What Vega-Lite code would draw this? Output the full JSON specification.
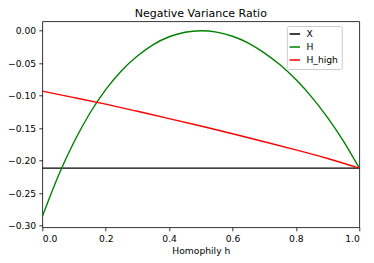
{
  "$schema": "https://vega.github.io/schema/vega-lite/v6.json",
  "width": 317,
  "height": 206,
  "autosize": {"type": "none"},
  "padding": {"left": 42.3, "top": 21.3, "right": 14.7, "bottom": 35.7},
  "title": {"text": "Negative Variance Ratio", "font": "DejaVu Sans", "fontSize": 11, "fontWeight": "normal", "color": "#000000", "baseline": "bottom", "offset": -9, "frame": "group"},
  "config": {
    "view": {"stroke": "#000000", "strokeWidth": 0.8},
    "axis": {"domain": false, "grid": false, "tickColor": "#000000", "tickWidth": 0.8, "tickSize": 3.5, "labelPadding": 3.2, "labelFont": "DejaVu Sans", "labelFontSize": 9.2, "labelColor": "#000000", "titleFont": "DejaVu Sans", "titleFontSize": 9.2, "titleFontWeight": "normal", "titleColor": "#000000"}
  },
  "data": {"values": [
    {"h": 0.0, "v": -0.2115, "s": "X"},
    {"h": 1.0, "v": -0.2115, "s": "X"},
    {"h": 0.0, "v": -0.286, "s": "H"},
    {"h": 0.05, "v": -0.2239, "s": "H"},
    {"h": 0.10, "v": -0.1712, "s": "H"},
    {"h": 0.15, "v": -0.1270, "s": "H"},
    {"h": 0.20, "v": -0.0906, "s": "H"},
    {"h": 0.25, "v": -0.0615, "s": "H"},
    {"h": 0.30, "v": -0.0390, "s": "H"},
    {"h": 0.35, "v": -0.0215, "s": "H"},
    {"h": 0.40, "v": -0.0093, "s": "H"},
    {"h": 0.45, "v": -0.0023, "s": "H"},
    {"h": 0.50, "v": 0.0, "s": "H"},
    {"h": 0.55, "v": -0.0021, "s": "H"},
    {"h": 0.60, "v": -0.0085, "s": "H"},
    {"h": 0.65, "v": -0.0190, "s": "H"},
    {"h": 0.70, "v": -0.0340, "s": "H"},
    {"h": 0.75, "v": -0.0525, "s": "H"},
    {"h": 0.80, "v": -0.0752, "s": "H"},
    {"h": 0.85, "v": -0.1022, "s": "H"},
    {"h": 0.90, "v": -0.1338, "s": "H"},
    {"h": 0.95, "v": -0.1700, "s": "H"},
    {"h": 1.0, "v": -0.2115, "s": "H"},
    {"h": 0.0, "v": -0.0930, "s": "H_high"},
    {"h": 0.1, "v": -0.1029, "s": "H_high"},
    {"h": 0.2, "v": -0.1130, "s": "H_high"},
    {"h": 0.3, "v": -0.1240, "s": "H_high"},
    {"h": 0.4, "v": -0.1352, "s": "H_high"},
    {"h": 0.5, "v": -0.1467, "s": "H_high"},
    {"h": 0.6, "v": -0.1586, "s": "H_high"},
    {"h": 0.7, "v": -0.1708, "s": "H_high"},
    {"h": 0.8, "v": -0.1834, "s": "H_high"},
    {"h": 0.9, "v": -0.1966, "s": "H_high"},
    {"h": 1.0, "v": -0.2115, "s": "H_high"}
  ]},
  "mark": {"type": "line", "strokeWidth": 1.4, "interpolate": "natural", "clip": true},
  "encoding": {
    "x": {"field": "h", "type": "quantitative", "title": "Homophily h",
          "scale": {"domain": [0, 1], "nice": false, "zero": false},
          "axis": {"values": [0, 0.2, 0.4, 0.6, 0.8, 1.0], "format": ".1f", "titlePadding": 3}},
    "y": {"field": "v", "type": "quantitative", "title": null,
          "scale": {"domain": [-0.3025, 0.0145], "nice": false, "zero": false},
          "axis": {"values": [-0.30, -0.25, -0.20, -0.15, -0.10, -0.05, 0.0], "format": ".2f"}},
    "color": {"field": "s", "type": "nominal", "title": null,
              "scale": {"domain": ["X", "H", "H_high"], "range": ["#000000", "#008000", "#ff0000"]},
              "legend": {"orient": "none", "legendX": 244.5, "legendY": 4.7, "symbolType": "M-1.3,0H1.3", "symbolSize": 64, "symbolStrokeWidth": 1.5, "labelFont": "DejaVu Sans", "labelFontSize": 9.2, "labelColor": "#000000", "labelOffset": 6.6, "rowPadding": 2, "padding": 3, "strokeColor": "#cccccc", "fillColor": "#ffffff", "cornerRadius": 2}},
    "order": {"field": "h", "type": "quantitative"}
  }
}
